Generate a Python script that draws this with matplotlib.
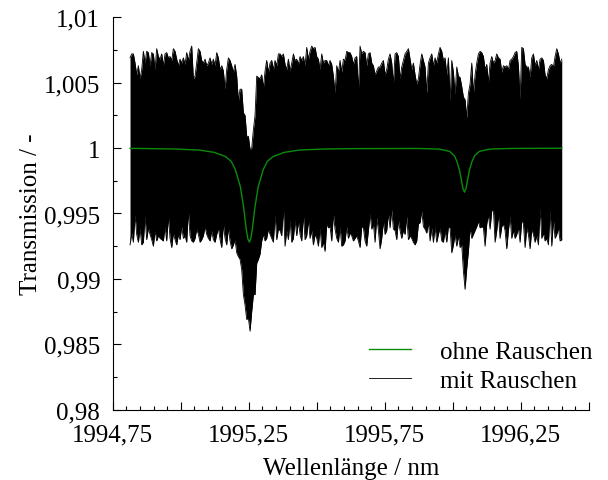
import numpy as np
import matplotlib
matplotlib.use('Agg')
import matplotlib.pyplot as plt
from matplotlib.ticker import MultipleLocator, FuncFormatter

# noisy transmission: upper and lower envelope of the measured band
wl_start, wl_stop, n_wl = 1994.8136, 1996.4006, 260

noise_hi = [
    1.0069, 1.0072, 1.0072, 1.0065, 1.0056, 1.0063, 1.0053, 1.0060, 1.0074, 1.0065,
    1.0074, 1.0073, 1.0063, 1.0073, 1.0072, 1.0060, 1.0076, 1.0070, 1.0068, 1.0072,
    1.0063, 1.0072, 1.0073, 1.0069, 1.0070, 1.0067, 1.0076, 1.0074, 1.0068, 1.0063,
    1.0068, 1.0065, 1.0069, 1.0064, 1.0073, 1.0067, 1.0074, 1.0078, 1.0053, 1.0055,
    1.0065, 1.0076, 1.0074, 1.0067, 1.0065, 1.0068, 1.0063, 1.0065, 1.0069, 1.0064,
    1.0068, 1.0063, 1.0073, 1.0069, 1.0060, 1.0063, 1.0059, 1.0045, 1.0060, 1.0069,
    1.0067, 1.0063, 1.0058, 1.0064, 1.0055, 1.0036, 1.0045, 1.0045, 1.0027, 1.0025,
    1.0009, 1.0009, 0.9999, 1.0000, 1.0014, 1.0025, 1.0055, 1.0054, 1.0053, 1.0056,
    1.0046, 1.0059, 1.0067, 1.0058, 1.0065, 1.0067, 1.0060, 1.0067, 1.0063, 1.0072,
    1.0072, 1.0070, 1.0072, 1.0064, 1.0060, 1.0068, 1.0059, 1.0065, 1.0072, 1.0067,
    1.0068, 1.0064, 1.0070, 1.0067, 1.0070, 1.0063, 1.0077, 1.0068, 1.0074, 1.0078,
    1.0076, 1.0077, 1.0070, 1.0068, 1.0060, 1.0072, 1.0065, 1.0067, 1.0067, 1.0063,
    1.0067, 1.0064, 1.0055, 1.0042, 1.0063, 1.0058, 1.0067, 1.0058, 1.0068, 1.0067,
    1.0074, 1.0073, 1.0073, 1.0070, 1.0064, 1.0069, 1.0070, 1.0044, 1.0078, 1.0072,
    1.0074, 1.0073, 1.0063, 1.0072, 1.0073, 1.0065, 1.0063, 1.0056, 1.0059, 1.0062,
    1.0062, 1.0065, 1.0067, 1.0056, 1.0060, 1.0068, 1.0072, 1.0065, 1.0049, 1.0072,
    1.0073, 1.0070, 1.0053, 1.0062, 1.0067, 1.0072, 1.0074, 1.0076, 1.0068, 1.0060,
    1.0065, 1.0056, 1.0049, 1.0053, 1.0064, 1.0072, 1.0067, 1.0062, 1.0042, 1.0065,
    1.0069, 1.0072, 1.0063, 1.0069, 1.0065, 1.0072, 1.0077, 1.0074, 1.0067, 1.0069,
    1.0056, 1.0069, 1.0036, 1.0067, 1.0058, 1.0041, 1.0062, 1.0055, 1.0054, 1.0047,
    1.0039, 1.0037, 1.0023, 1.0042, 1.0049, 1.0065, 1.0042, 1.0056, 1.0065, 1.0072,
    1.0074, 1.0073, 1.0070, 1.0060, 1.0064, 1.0050, 1.0065, 1.0070, 1.0065, 1.0067,
    1.0072, 1.0069, 1.0068, 1.0058, 1.0063, 1.0062, 1.0063, 1.0060, 1.0067, 1.0068,
    1.0070, 1.0073, 1.0074, 1.0063, 1.0037, 1.0077, 1.0076, 1.0064, 1.0062, 1.0062,
    1.0054, 1.0069, 1.0072, 1.0063, 1.0067, 1.0060, 1.0068, 1.0069, 1.0067, 1.0056,
    1.0053, 1.0060, 1.0063, 1.0064, 1.0062, 1.0070, 1.0076, 1.0072, 1.0065, 1.0068,
]

noise_lo = [
    0.9926, 0.9935, 0.9928, 0.9949, 0.9934, 0.9928, 0.9939, 0.9926, 0.9928, 0.9948,
    0.9930, 0.9939, 0.9934, 0.9930, 0.9925, 0.9937, 0.9929, 0.9933, 0.9931, 0.9930,
    0.9929, 0.9940, 0.9929, 0.9948, 0.9931, 0.9924, 0.9935, 0.9930, 0.9926, 0.9934,
    0.9930, 0.9940, 0.9931, 0.9933, 0.9928, 0.9952, 0.9933, 0.9929, 0.9928, 0.9931,
    0.9938, 0.9934, 0.9928, 0.9930, 0.9933, 0.9940, 0.9934, 0.9931, 0.9929, 0.9937,
    0.9930, 0.9928, 0.9934, 0.9939, 0.9930, 0.9924, 0.9942, 0.9931, 0.9926, 0.9939,
    0.9929, 0.9923, 0.9926, 0.9930, 0.9920, 0.9917, 0.9915, 0.9907, 0.9888, 0.9880,
    0.9869, 0.9870, 0.9860, 0.9875, 0.9888, 0.9888, 0.9912, 0.9915, 0.9919, 0.9929,
    0.9934, 0.9929, 0.9931, 0.9938, 0.9934, 0.9931, 0.9928, 0.9949, 0.9930, 0.9938,
    0.9937, 0.9933, 0.9954, 0.9925, 0.9937, 0.9930, 0.9945, 0.9928, 0.9931, 0.9945,
    0.9933, 0.9944, 0.9934, 0.9929, 0.9949, 0.9930, 0.9933, 0.9945, 0.9931, 0.9937,
    0.9926, 0.9934, 0.9931, 0.9925, 0.9939, 0.9924, 0.9928, 0.9921, 0.9942, 0.9939,
    0.9940, 0.9929, 0.9950, 0.9938, 0.9931, 0.9928, 0.9940, 0.9925, 0.9926, 0.9929,
    0.9940, 0.9931, 0.9935, 0.9933, 0.9929, 0.9931, 0.9933, 0.9929, 0.9924, 0.9940,
    0.9939, 0.9929, 0.9925, 0.9937, 0.9950, 0.9938, 0.9942, 0.9928, 0.9947, 0.9937,
    0.9923, 0.9931, 0.9944, 0.9934, 0.9937, 0.9950, 0.9939, 0.9953, 0.9938, 0.9937,
    0.9930, 0.9945, 0.9937, 0.9931, 0.9937, 0.9934, 0.9948, 0.9930, 0.9933, 0.9931,
    0.9928, 0.9926, 0.9929, 0.9942, 0.9943, 0.9952, 0.9940, 0.9938, 0.9935, 0.9943,
    0.9929, 0.9939, 0.9928, 0.9940, 0.9928, 0.9934, 0.9939, 0.9929, 0.9928, 0.9937,
    0.9928, 0.9940, 0.9939, 0.9920, 0.9926, 0.9934, 0.9925, 0.9933, 0.9924, 0.9926,
    0.9906, 0.9892, 0.9908, 0.9921, 0.9939, 0.9931, 0.9934, 0.9937, 0.9940, 0.9944,
    0.9939, 0.9940, 0.9939, 0.9925, 0.9942, 0.9949, 0.9938, 0.9952, 0.9953, 0.9928,
    0.9937, 0.9949, 0.9931, 0.9940, 0.9942, 0.9937, 0.9923, 0.9937, 0.9948, 0.9931,
    0.9937, 0.9931, 0.9934, 0.9939, 0.9928, 0.9945, 0.9942, 0.9924, 0.9939, 0.9934,
    0.9923, 0.9938, 0.9934, 0.9928, 0.9933, 0.9926, 0.9954, 0.9931, 0.9935, 0.9929,
    0.9931, 0.9926, 0.9953, 0.9925, 0.9945, 0.9931, 0.9934, 0.9939, 0.9929, 0.9930,
]

# transmission without noise (two absorption lines)
clean_wl = [
    1994.8136, 1994.9763, 1995.0682, 1995.1233, 1995.1638, 1995.1858, 1995.2005,
    1995.2189, 1995.2248, 1995.2318, 1995.2366, 1995.2410, 1995.2465, 1995.2520,
    1995.2575, 1995.2630, 1995.2674, 1995.2722, 1995.2792, 1995.2851, 1995.3035,
    1995.3182, 1995.3402, 1995.3807, 1995.4358, 1995.5277, 1995.6500,
    1995.8776, 1995.9511, 1995.9879, 1996.0062, 1996.0154, 1996.0246, 1996.0320,
    1996.0375, 1996.0430, 1996.0485, 1996.0540, 1996.0614, 1996.0706, 1996.0798,
    1996.0981, 1996.1349, 1996.2084, 1996.4006,
]
clean_t = [
    0.99998, 0.99993, 0.99985, 0.99967, 0.99936, 0.99898, 0.99837,
    0.99707, 0.99633, 0.99539, 0.99454, 0.99378, 0.99309, 0.99281,
    0.99309, 0.99378, 0.99454, 0.99539, 0.99633, 0.99707, 0.99837,
    0.99898, 0.99936, 0.99967, 0.99985, 0.99993, 0.99996,
    0.99997, 0.99992, 0.99975, 0.99940, 0.99897, 0.99832, 0.99752,
    0.99691, 0.99663, 0.99691, 0.99752, 0.99832, 0.99897, 0.99940,
    0.99975, 0.99992, 0.99997, 0.99999,
]

plt.rcParams['font.family'] = 'Liberation Serif'
plt.rcParams['font.size'] = 18

wl = np.linspace(wl_start, wl_stop, n_wl)

fig = plt.figure(figsize=(6.08, 4.81), dpi=100)
ax = fig.add_axes([0.1854, 0.1462, 0.783, 0.8158])

ax.fill_between(wl, noise_lo, noise_hi, color='k', lw=0)
line_noise, = ax.plot(wl, noise_hi, color='k', lw=0.6)
ax.plot(wl, noise_lo, color='k', lw=0.6)
line_clean, = ax.plot(clean_wl, clean_t, color='#0b8c0b', lw=1.0)

ax.set_xlim(1994.75, 1996.5)
ax.set_ylim(0.98, 1.01)
ax.spines['top'].set_visible(False)
ax.spines['right'].set_visible(False)
for s in ('left', 'bottom'):
    ax.spines[s].set_linewidth(0.8)


def fmt_x(v, pos):
    k = int(round((v - 1994.75) / 0.25))
    if k % 2:
        return ''
    return f'{v:.2f}'.replace('.', ',')


def fmt_y(v, pos):
    s = f'{v:.3f}'.rstrip('0').rstrip('.')
    return s.replace('.', ',')


ax.xaxis.set_major_locator(MultipleLocator(0.25))
ax.xaxis.set_minor_locator(MultipleLocator(0.05))
ax.xaxis.set_major_formatter(FuncFormatter(fmt_x))
ax.yaxis.set_major_locator(MultipleLocator(0.005))
ax.yaxis.set_minor_locator(MultipleLocator(0.0025))
ax.yaxis.set_major_formatter(FuncFormatter(fmt_y))
ax.tick_params(which='major', direction='in', length=6, width=0.8)
ax.tick_params(which='minor', direction='in', length=3, width=0.8)
ax.tick_params(axis='x', which='major', pad=10)
ax.tick_params(axis='y', which='major', pad=9)

ax.set_xlabel('Wellenlänge / nm', labelpad=8)
ax.set_ylabel('Transmission / -', labelpad=1)

ax.legend([line_clean, line_noise], ['ohne Rauschen', 'mit Rauschen'],
          loc='upper left', bbox_to_anchor=(0.5385, 0.177), frameon=False,
          borderpad=0, borderaxespad=0, handlelength=1.68, handletextpad=1.16,
          labelspacing=0.28)

fig.savefig('out.png', dpi=100)
